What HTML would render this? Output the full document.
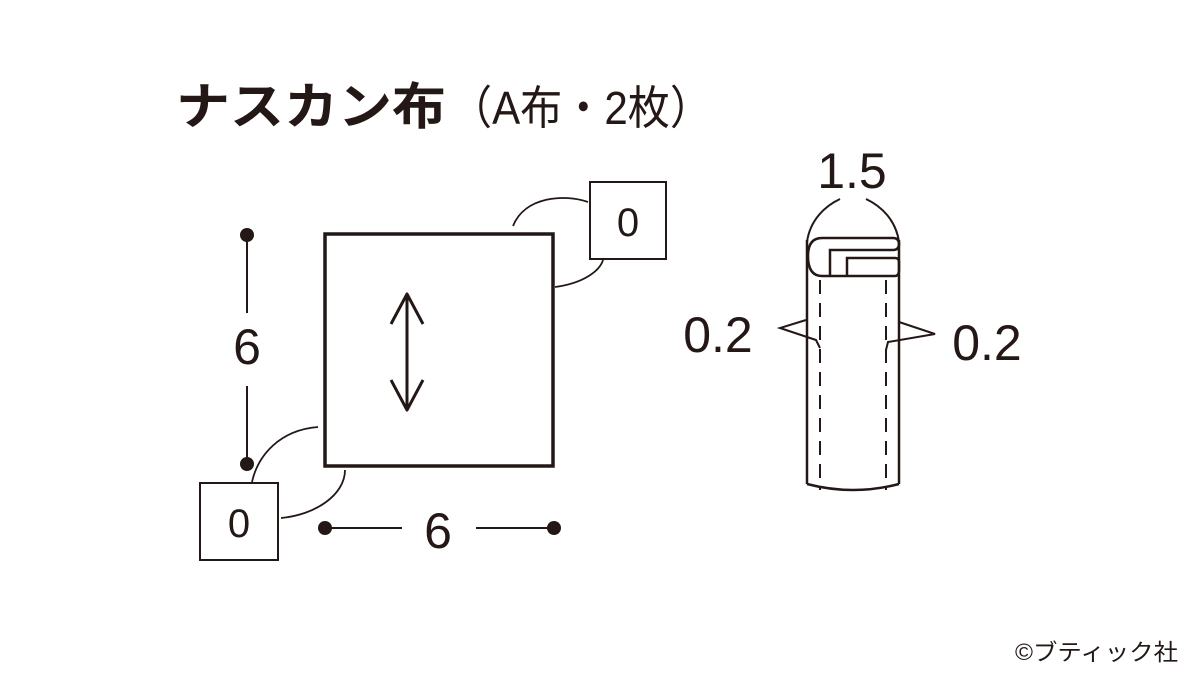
<!DOCTYPE html>
<html><head><meta charset="utf-8"><style>
html,body{margin:0;padding:0;background:#fff;}
svg{display:block}
text{font-family:"Liberation Sans","Noto Sans CJK JP",sans-serif;fill:#231815}
</style></head><body>
<svg width="1200" height="675" viewBox="0 0 1200 675" xmlns="http://www.w3.org/2000/svg">
<rect width="1200" height="675" fill="#fff"/>
<text x="176" y="124" font-size="50" font-weight="bold" textLength="270" lengthAdjust="spacingAndGlyphs">ナスカン布</text>
<text x="450" y="124" font-size="46" textLength="262" lengthAdjust="spacingAndGlyphs">（A布・2枚）</text>
<g stroke="#231815" fill="none">
<rect x="325" y="234" width="228" height="232" stroke-width="3.5"/>
<line x1="407" y1="294" x2="407" y2="410" stroke-width="3"/>
<polyline points="391,324 407,294 423,324" stroke-width="3" stroke-linejoin="round"/>
<polyline points="391,380 407,410 423,380" stroke-width="3" stroke-linejoin="round"/>
<rect x="590" y="182" width="76" height="77" stroke-width="2"/>
<rect x="200" y="483" width="78" height="77" stroke-width="2"/>
<path d="M513,226 C525,196 565,194 588,202" stroke-width="1.8"/>
<path d="M555,287 C585,283 600,270 603,260" stroke-width="1.8"/>
<path d="M318,427 C280,430 258,455 252,482" stroke-width="1.8"/>
<path d="M345,470 C345,495 315,515 281,518" stroke-width="1.8"/>
<line x1="247" y1="235" x2="247" y2="313" stroke-width="2"/>
<line x1="247" y1="386" x2="247" y2="464" stroke-width="2"/>
<line x1="325" y1="528" x2="402" y2="528" stroke-width="2"/>
<line x1="476" y1="528" x2="554" y2="528" stroke-width="2"/>
<line x1="807" y1="240" x2="807" y2="484" stroke-width="2.5"/>
<line x1="899" y1="240" x2="899" y2="484" stroke-width="2.5"/>
<path d="M807,484 Q853,496 899,484" stroke-width="2.5"/>
<path d="M807,242 C810,220 825,206 840,199" stroke-width="2"/>
<path d="M899,242 C896,220 881,206 866,199" stroke-width="2"/>
<path d="M893,238 L822,238 Q808,238 808,256 Q808,276 822,276 L895,276 Q899,276 899,270 L899,262 Q899,258 895,258 L847,258 L847,276 M830,276 L830,250 L893,250 Q899,250 899,244 Q899,238 893,238" stroke-width="2.5"/>
<line x1="820" y1="280" x2="820" y2="490" stroke-width="2" stroke-dasharray="14,9"/>
<line x1="886" y1="280" x2="886" y2="490" stroke-width="2" stroke-dasharray="14,9"/>
<polyline points="806,320 780,328 816,340 820,348" stroke-width="2"/>
<polyline points="899,322 935,334 888,342 886,350" stroke-width="2"/>
</g>
<g fill="#231815">
<circle cx="247" cy="235" r="7"/><circle cx="247" cy="464" r="7"/>
<circle cx="325" cy="528" r="7"/><circle cx="554" cy="528" r="7"/>
</g>
<text x="628" y="236" font-size="40" text-anchor="middle">0</text>
<text x="239" y="537" font-size="40" text-anchor="middle">0</text>
<text x="247" y="364" font-size="50" text-anchor="middle">6</text>
<text x="438" y="548" font-size="50" text-anchor="middle">6</text>
<text x="852" y="188" font-size="50" text-anchor="middle">1.5</text>
<text x="718" y="352" font-size="50" text-anchor="middle">0.2</text>
<text x="987" y="360" font-size="50" text-anchor="middle">0.2</text>
<text x="1015" y="660" font-size="23" textLength="163" lengthAdjust="spacingAndGlyphs">©ブティック社</text>
</svg>
</body></html>
